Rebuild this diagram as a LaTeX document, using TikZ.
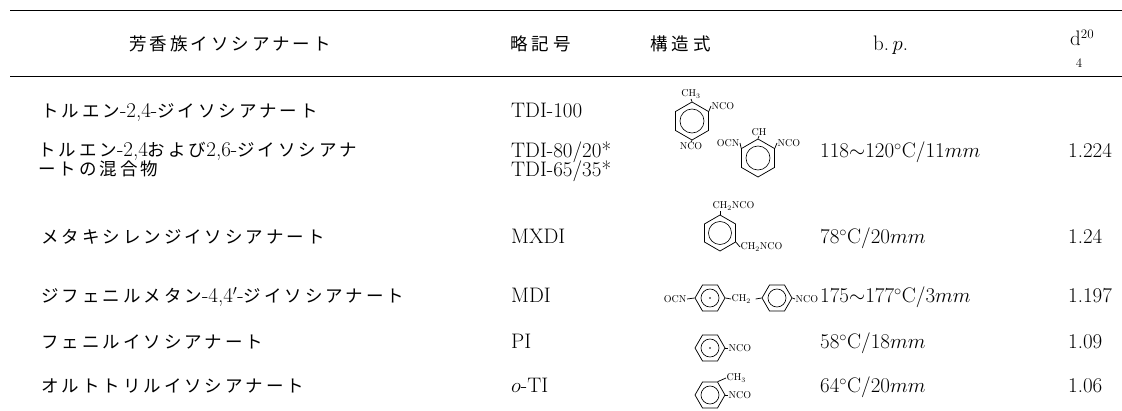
\documentclass[tikz,border=0pt]{standalone}
\usepackage{fontspec}
\newfontfamily\jpfont[LetterSpace=17]{Noto Sans CJK JP}
\newcommand\jp{\jpfont\fontsize{17.5}{21}\selectfont}
\usetikzlibrary{shapes.geometric}
\begin{document}
\begin{tikzpicture}[x=1pt,y=-1pt, font=\fontsize{21}{24}\selectfont,
  txt/.style={anchor=west, inner sep=0, text height=14pt, text depth=2pt},
  hdr/.style={inner sep=0, text height=14pt, text depth=2pt},
  chem/.style={inner sep=0.5pt, font=\fontsize{10}{12}\selectfont},
  ringv/.style={regular polygon, regular polygon sides=6, shape border rotate=30, draw, inner sep=0, minimum size=#1, line width=0.75pt},
  ringh/.style={regular polygon, regular polygon sides=6, draw, inner sep=0, minimum size=#1, line width=0.75pt},
  inring/.style={circle, draw, inner sep=0, minimum size=#1, line width=0.65pt},
  bond/.style={line width=0.75pt},
  rule/.style={line width=0.9pt}]
\useasboundingbox (0,0) rectangle (1122,411);
% rules
\coordinate (ra) at (10,10); \coordinate (rb) at (1122,10);
\coordinate (rc) at (10,76); \coordinate (rd) at (1122,76);
\draw[rule] (ra) -- (rb);
\draw[rule] (rc) -- (rd);
% header
\node[hdr] (h1) at (230,45) {\jp 芳香族イソシアナート};
\node[hdr, anchor=west] (h2) at (510,45) {\jp 略\hspace{4pt}記\hspace{4pt}号};
\node[hdr, anchor=west] (h3) at (650,45) {\jp 構\hspace{4pt}造\hspace{4pt}式};
\node[hdr, anchor=west] (h4) at (873,45) {b.\,$p$.};
\node[hdr, anchor=west] (h5) at (1070,40) {d$^{\mbox{\fontsize{13}{15}\selectfont 20}}$};
\node[inner sep=0, font=\fontsize{13}{15}\selectfont] (h6) at (1079,63) {4};
% column 1
\node[txt] (n1) at (41,112) {{\jp トルエン}-2,4-{\jp ジイソシアナート}};
\node[txt] (n2a) at (38,151) {{\jp トルエン}-2,4{\jp および}2,6-{\jp ジイソシアナ}};
\node[txt] (n2b) at (38,170) {{\jp ートの混合物}};
\node[txt] (n3) at (41,238) {{\jp メタキシレンジイソシアナート}};
\node[txt] (n4) at (41,297) {{\jp ジフェニルメタン}-4,4$'$-{\jp ジイソシアナート}};
\node[txt] (n5) at (41,343) {{\jp フェニルイソシアナート}};
\node[txt] (n6) at (41,387) {{\jp オルトトリルイソシアナート}};
% column 2
\node[txt] (a1) at (511,112) {TDI-100};
\node[txt] (a2a) at (511,152) {TDI-80/20*};
\node[txt] (a2b) at (511,171) {TDI-65/35*};
\node[txt] (a3) at (511,238) {MXDI};
\node[txt] (a4) at (511,297) {MDI};
\node[txt] (a5) at (511,343) {PI};
\node[txt] (a6) at (511,387) {$o$-TI};
% column 4
\node[txt] (b2) at (820,152) {118$\sim$120$^\circ$C/11$mm$};
\node[txt] (b3) at (820,238) {78$^\circ$C/20$mm$};
\node[txt] (b4) at (820,297) {175$\sim$177$^\circ$C/3$mm$};
\node[txt] (b5) at (820,343) {58$^\circ$C/18$mm$};
\node[txt] (b6) at (820,387) {64$^\circ$C/20$mm$};
% column 5
\node[txt] (c2) at (1068,152) {1.224};
\node[txt] (c3) at (1068,238) {1.24};
\node[txt] (c4) at (1068,297) {1.197};
\node[txt] (c5) at (1068,343) {1.09};
\node[txt] (c6) at (1068,387) {1.06};
% TDI 2,4
\node[ringv=38pt] (t1) at (692,121) {};
\node[inring=24pt] (t1c) at (t1.center) {};
\node[chem, anchor=south] (t1m) at (691,99) {CH$_3$};
\node[chem, anchor=west] (t1n) at (711,106) {NCO};
\node[chem, anchor=north] (t1b) at (691,142) {NCO};
\draw[bond] (t1.90) -- (t1m.south);
\draw[bond] (t1.30) -- (t1n.west);
\draw[bond] (t1.270) -- (t1b.north);
% TDI 2,6
\node[ringv=38pt] (t2) at (758,158) {};
\node[inring=24pt] (t2c) at (t2.center) {};
\node[chem, anchor=south] (t2h) at (759,136) {CH};
\node[chem, anchor=east] (t2o) at (740,143) {OCN};
\node[chem, anchor=west] (t2n) at (777,143) {NCO};
\draw[bond] (t2.90) -- (t2h.south);
\draw[bond] (t2.150) -- (t2o.east);
\draw[bond] (t2.30) -- (t2n.west);
% MXDI
\node[ringv=36pt] (m) at (720,233) {};
\node[inring=23pt] (mc) at (m.center) {};
\node[chem, anchor=south west] (m1) at (712,211) {CH$_2$NCO};
\node[chem, anchor=west] (m2) at (740,247) {CH$_2$NCO};
\draw[bond] (m.90) -- (m.90 |- m1.south);
\draw[bond] (m.-30) -- (m2.west);
% MDI
\node[ringh=30pt] (d1) at (710,298) {};
\node[inring=18pt] (d1c) at (d1.center) {};
\node[ringh=30pt] (d2) at (777,298) {};
\node[inring=18pt] (d2c) at (d2.center) {};
\node[chem, anchor=east] (dO) at (687,299) {OCN};
\node[chem, anchor=west] (dC) at (731,299) {CH$_2$};
\node[chem, anchor=west] (dN) at (795,299) {NCO};
\draw[bond] (dO.east) -- (d1.180);
\draw[bond] (d1.0) -- (dC.west);
\draw[bond] ([xshift=4pt]dC.east) -- (d2.180);
\draw[bond] (d2.0) -- (dN.west);
\fill (d1.center) circle (0.8);
% PI
\node[ringh=30pt] (p) at (710,348) {};
\node[inring=18pt] (pc) at (p.center) {};
\node[chem, anchor=west] (pN) at (728,348) {NCO};
\draw[bond] (p.0) -- (pN.west);
\fill (p.center) circle (0.8);
% o-TI
\node[ringh=30pt] (o) at (710,395) {};
\node[inring=18pt] (oc) at (o.center) {};
\node[chem, anchor=west] (oM) at (726,378) {CH$_3$};
\node[chem, anchor=west] (oN) at (728,395) {NCO};
\draw[bond] (o.60) -- (oM.west);
\draw[bond] (o.0) -- (oN.west);
\end{tikzpicture}
\end{document}
